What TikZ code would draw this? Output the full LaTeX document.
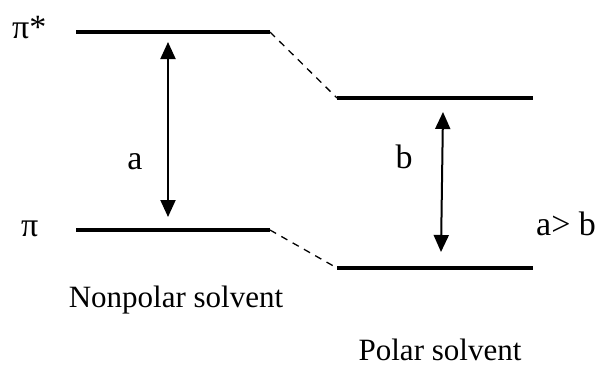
\documentclass[tikz,border=0pt]{standalone}
\usepackage{fontspec}
\setmainfont{Liberation Serif}
\usetikzlibrary{arrows.meta}
\begin{document}
\begin{tikzpicture}[x=1pt,y=-1pt,
  level/.style={line width=3.2pt},
  corr/.style={line width=1.3pt,dash pattern=on 7pt off 6pt},
  gap/.style={line width=2pt,{Triangle[length=17pt,width=15pt]}-{Triangle[length=17pt,width=15pt]}},
  lbl/.style={inner sep=0pt,text depth=0pt,font=\fontsize{31}{36}\selectfont},
  sym/.style={inner sep=0pt,text depth=0pt,font=\fontsize{34}{40}\selectfont}]
\useasboundingbox (0,0) rectangle (602,368);
% levels
\coordinate (pisL) at (76,32);  \coordinate (pisR) at (270,32);
\coordinate (piL) at (76,230);  \coordinate (piR) at (270,230);
\coordinate (upL) at (337,98);  \coordinate (upR) at (533,98);
\coordinate (loL) at (337,268); \coordinate (loR) at (533,268);
\draw[level] (pisL) -- (pisR);
\draw[level] (piL) -- (piR);
\draw[level] (upL) -- (upR);
\draw[level] (loL) -- (loR);
\draw[corr] (pisR) -- (upL);
\draw[corr] (piR) -- (loL);
% gaps
\coordinate (aT) at (168,42);  \coordinate (aB) at (168,217);
\coordinate (bT) at (443,112); \coordinate (bB) at (441,252);
\draw[gap] (aB) -- (aT);
\draw[gap] (bB) -- (bT);
% labels
\node[sym,anchor=base west] (pistar) at (12,38) {π*};
\node[sym,anchor=base west] (pi) at (21,236) {π};
\node[sym,anchor=base] (la) at (135,169) {a};
\node[sym,anchor=base] (lb) at (404,168) {b};
\node[sym,anchor=base west] (cmp) at (536,235) {a> b};
\node[lbl,anchor=base] (np) at (176,307) {Nonpolar solvent};
\node[lbl,anchor=base] (pol) at (440,360) {Polar solvent};
\end{tikzpicture}
\end{document}
